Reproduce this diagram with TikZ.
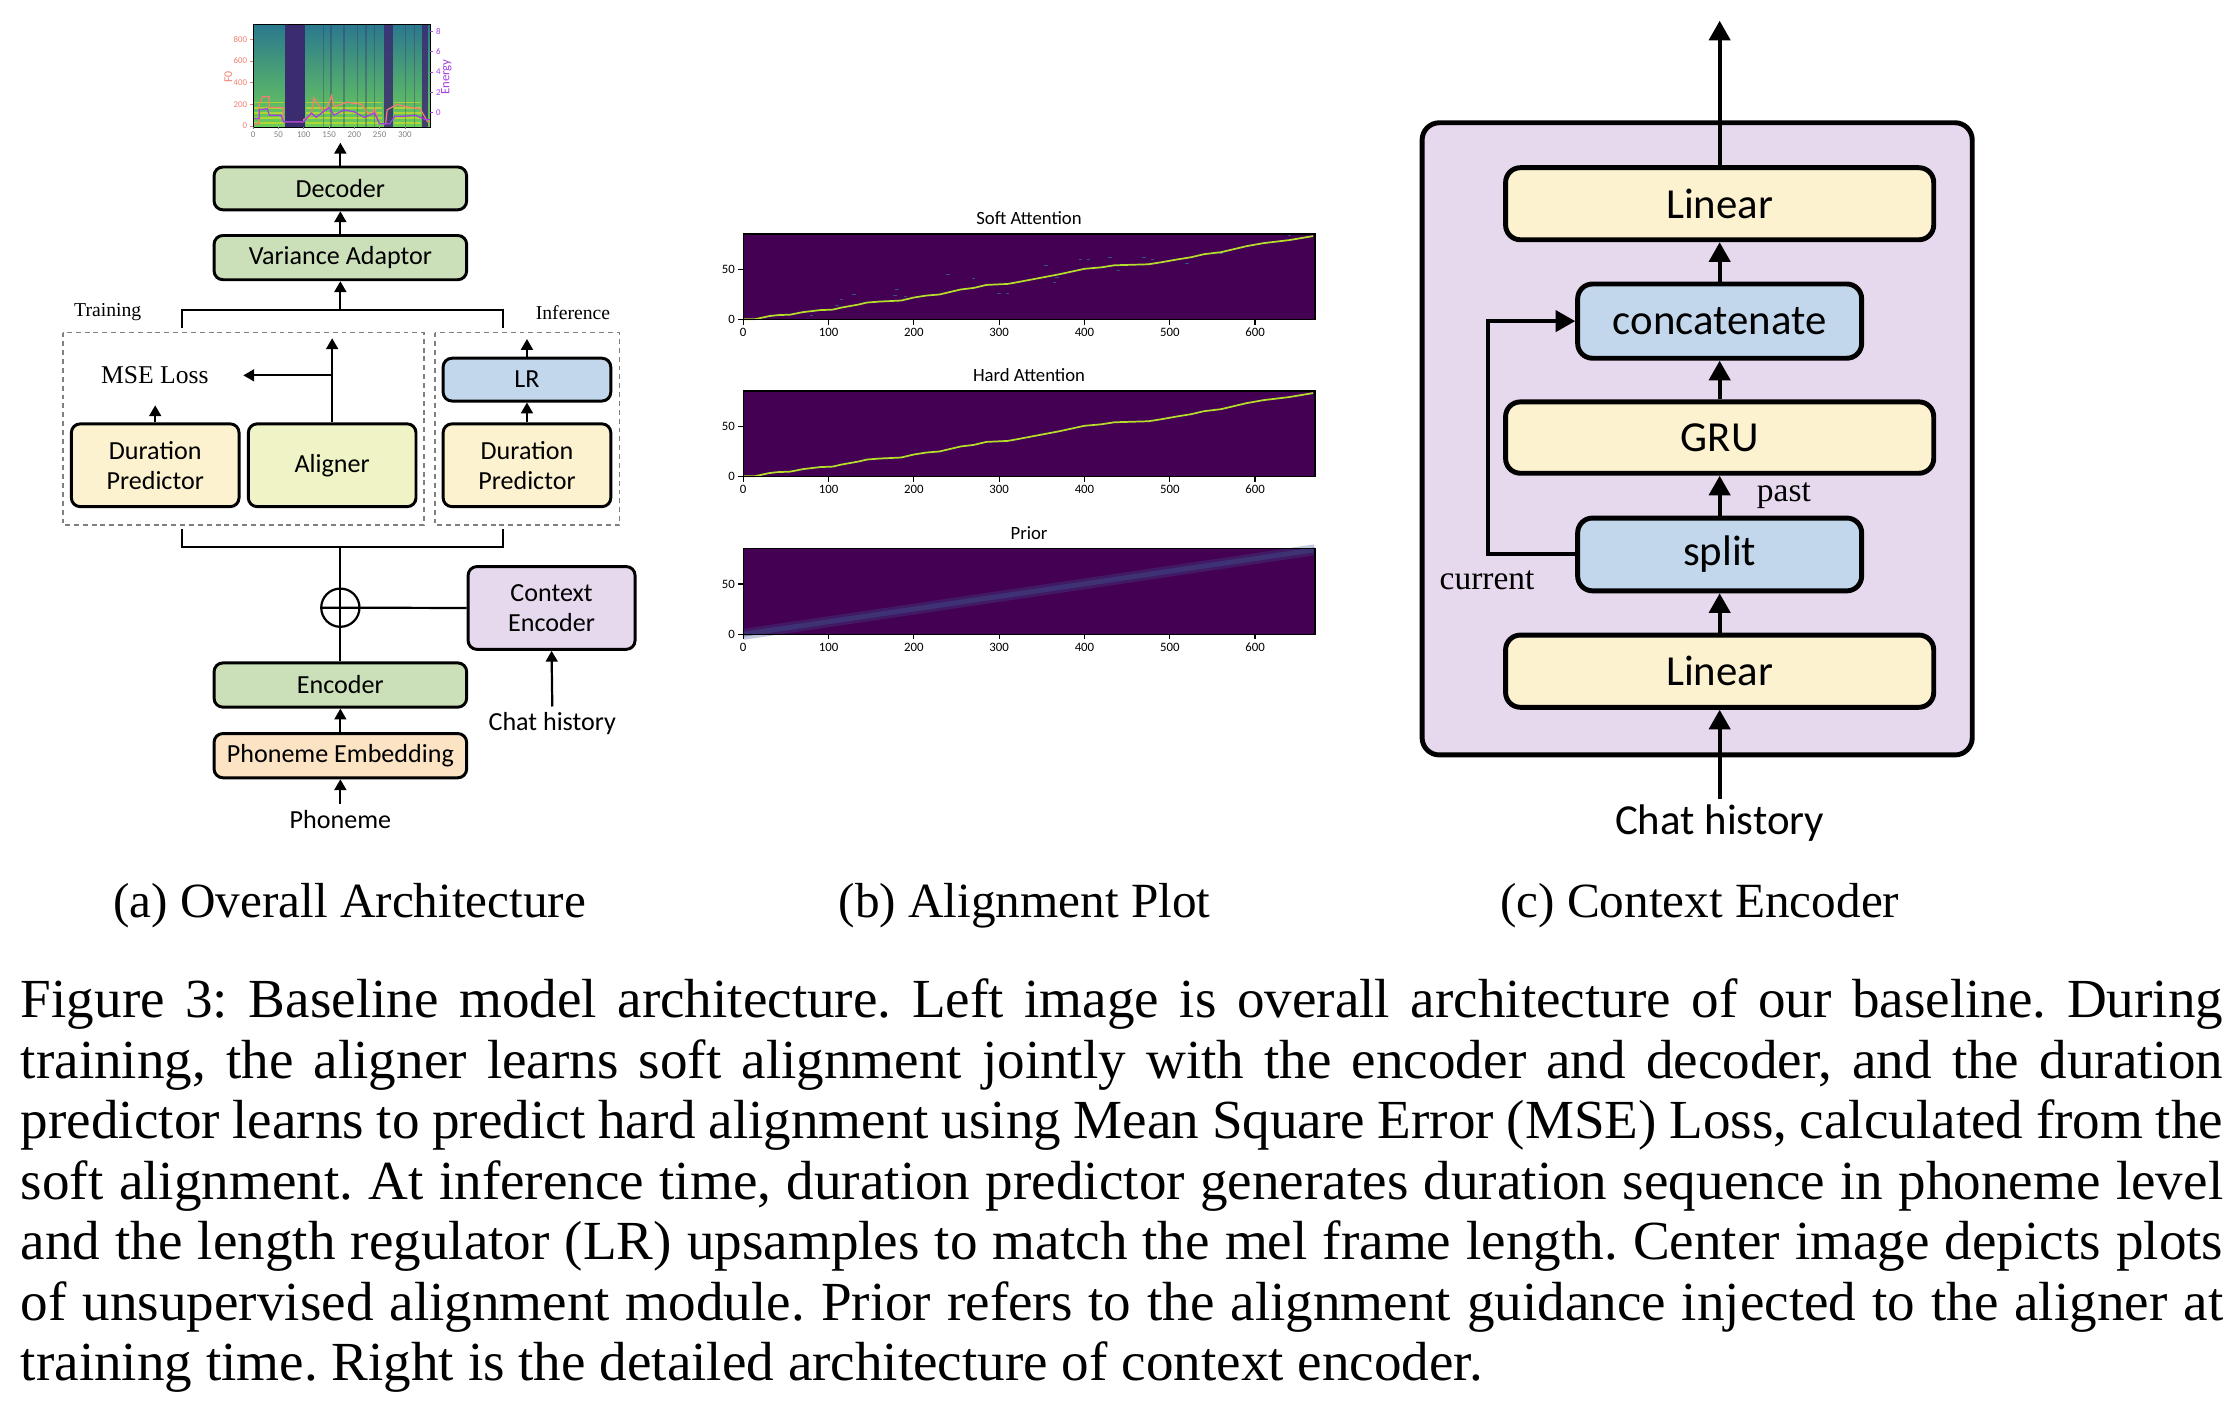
\documentclass[tikz,border=0pt]{standalone}
\usepackage{fontspec}
\setmainfont{Liberation Serif}
\newfontfamily\boxfont{Carlito}
\usetikzlibrary{arrows.meta}

\definecolor{boxgreen}{HTML}{CBDFB8}
\definecolor{boxyellow}{HTML}{FDF2D0}
\definecolor{boxlime}{HTML}{EFF3C6}
\definecolor{boxblue}{HTML}{C3D7EC}
\definecolor{boxlilac}{HTML}{E6D8ED}
\definecolor{boxpeach}{HTML}{FBE3C3}
\definecolor{vdark}{HTML}{440154}
\definecolor{vline}{HTML}{B5DE2B}
\definecolor{vspeck}{HTML}{2A788E}
\definecolor{priorband}{HTML}{3B528B}
\definecolor{spectop}{HTML}{2A788E}
\definecolor{specmid}{HTML}{22A384}
\definecolor{specbot}{HTML}{6CCD5A}
\definecolor{specdark}{HTML}{3B2C70}
\definecolor{specyel}{HTML}{DDE318}
\definecolor{f0col}{HTML}{F08070}
\definecolor{encol}{HTML}{A43FE0}

\tikzset{
  boxsize/.style 2 args={minimum width=#1*0.29pt, minimum height=#2*0.29pt},
  blk/.style={draw=black, line width=0.6pt, rounded corners=1.8pt, align=center, inner sep=0pt,
    font=\boxfont\fontsize{5.3pt}{6.1pt}\selectfont},
  cblk/.style={draw=black, line width=1pt, rounded corners=3pt, inner sep=0pt,
    font=\boxfont\fontsize{8.7pt}{10pt}\selectfont},
  link/.style={line width=0.45pt},
  arra/.style={-{Triangle[width=2.4pt,length=2.2pt]}, line width=0.45pt},
  arrc/.style={-{Triangle[width=4.3pt,length=4pt]}, line width=0.8pt},
  dashbox/.style={draw=gray, line width=0.35pt, dash pattern=on 1pt off 0.8pt},
  ticklab/.style={font=\boxfont\fontsize{2.6pt}{3pt}\selectfont, inner sep=0.5pt},
  spectick/.style={font=\boxfont\fontsize{1.8pt}{2pt}\selectfont, inner sep=0.4pt},
  attline/.style={draw=vline, line width=0.35pt},
}

\newcommand{\stairline}{(0,0.5) -- (14,0.5) -- (30,3.5) -- (40,4.5) -- (55,5) -- (70,7.5) -- (90,9.5)
  -- (105,10) -- (115,12) -- (135,15) -- (145,17) -- (160,18) -- (185,19) -- (200,22) -- (215,24)
  -- (230,25) -- (245,28) -- (255,30) -- (270,31.5) -- (285,34.5) -- (310,35.5) -- (320,37)
  -- (345,41) -- (370,45) -- (400,50.5) -- (420,52) -- (435,54) -- (475,55) -- (490,57) -- (510,60)
  -- (525,62) -- (540,65) -- (560,67) -- (575,70) -- (590,73) -- (610,76) -- (640,79) -- (668,83)}

\newcommand{\alignframe}[1]{%
  \draw[line width=0.3pt] (0,0) rectangle (670,85);
  \foreach \t in {0,100,...,600} {
    \draw[line width=0.25pt] (\t,0) -- (\t,-5);
    \node[ticklab, below] at (\t,-5) {\t};
  }
  \foreach \t in {0,50} {
    \draw[line width=0.25pt] (0,\t) -- (-5.8,\t);
    \node[ticklab, left] at (-5.8,\t) {\t};
  }
  \node[font=\boxfont\fontsize{3.8pt}{4pt}\selectfont] at (335,100.6) {#1};
}

\begin{document}
\begin{tikzpicture}[x=0.29pt, y=-0.29pt]
  \useasboundingbox (0,0) rectangle (1564,984);

  % (a) overall architecture
  \begin{scope}[shift={(177.4,88.3)}, x=0.10275pt, y=0.02204pt]
    \shade[top color=spectop, middle color=specmid, bottom color=specbot] (0,-10) rectangle (350,938);
    \foreach \h in {30,75,120,165,215} {
      \draw[specyel, line width=0.3pt, opacity=0.6] (2,\h) -- (60,\h) (104,\h) -- (255,\h) (278,\h) -- (331,\h);
    }
    \fill[specdark] (62,-10) rectangle (102,938);
    \fill[specdark, opacity=0.85] (258,-10) rectangle (276,938);
    \fill[specdark, opacity=0.85] (333,-10) rectangle (346,938);
    \foreach \s in {138,152,178,205,222,238,300,318} {
      \fill[specdark, opacity=0.35] (\s,-10) rectangle (\s+3,938);
    }
    \draw[f0col, line width=0.25pt] (0,20) -- (12,20) -- (12,190) -- (18,270) -- (32,270) -- (32,170)
      -- (60,170) -- (60,40) -- (100,40) -- (100,60) -- (115,100) -- (120,260) -- (130,190)
      -- (140,130) -- (150,210) -- (155,280) -- (160,180) -- (175,200) -- (185,220) -- (215,200)
      -- (225,130) -- (235,110) -- (240,160) -- (250,20) -- (262,20) -- (265,150) -- (285,200)
      -- (300,180) -- (330,160) -- (345,40) -- (350,40);
    \draw[encol, line width=0.25pt] (0,70) -- (12,70) -- (12,150) -- (28,160) -- (32,100) -- (55,100)
      -- (60,40) -- (100,40) -- (115,120) -- (125,80) -- (135,120) -- (150,170) -- (160,100)
      -- (180,150) -- (200,130) -- (220,80) -- (240,120) -- (250,20) -- (270,20) -- (280,90)
      -- (300,90) -- (320,100) -- (340,60) -- (350,60);
    \draw[line width=0.2pt] (0,-10) rectangle (350,938);
    \foreach \t in {0,50,...,300} {
      \draw[line width=0.15pt, gray] (\t,-10) -- (\t,-30);
      \node[spectick, below, text=gray] at (\t,-30) {\t};
    }
    \foreach \t in {0,200,400,600,800} {
      \draw[line width=0.15pt, f0col] (0,\t) -- (-6,\t);
      \node[spectick, left, text=f0col] at (-6,\t) {\t};
    }
    \foreach \e in {0,2,4,6,8} {
      \draw[line width=0.15pt, encol] (350,122+94*\e) -- (356,122+94*\e);
      \node[spectick, right, text=encol] at (356,122+94*\e) {\e};
    }
    \node[rotate=90, text=f0col, font=\boxfont\fontsize{2.4pt}{3pt}\selectfont] at (-49,451) {F0};
    \node[rotate=90, text=encol, font=\boxfont\fontsize{2.6pt}{3pt}\selectfont] at (382,451) {Energy};
  \end{scope}
  \coordinate (specbot) at (238.5,100);

  \draw[dashbox] (44,233) rectangle (297,368);
  \draw[dashbox] (305,233) rectangle (434,368);

  \node[blk, boxsize={177}{30}, fill=boxgreen] (dec) at (238.5,132) {Decoder};
  \node[blk, boxsize={177}{31}, fill=boxgreen] (va) at (238.5,180.5) {Variance Adaptor};
  \node[blk, boxsize={117.5}{58}, fill=boxyellow] (dpl) at (108.75,326) {Duration\\Predictor};
  \node[blk, boxsize={117.5}{58}, fill=boxlime] (ali) at (232.75,326) {Aligner};
  \node[blk, boxsize={117.5}{30}, fill=boxblue] (lr) at (369.25,266) {LR};
  \node[blk, boxsize={117.5}{58}, fill=boxyellow] (dpr) at (369.25,326) {Duration\\Predictor};
  \node[blk, boxsize={117}{58}, fill=boxlilac] (ce) at (386.5,426) {Context\\Encoder};
  \node[blk, boxsize={177}{31}, fill=boxgreen] (enc) at (238.5,480) {Encoder};
  \node[blk, boxsize={177}{31}, fill=boxpeach] (pe) at (238.5,529.5) {Phoneme Embedding};
  \node[circle, draw, link, minimum size=26.8*0.29pt, inner sep=0pt] (add) at (238.5,425.8) {};

  \node[font=\fontsize{4pt}{5pt}\selectfont] (train) at (75.5,219) {Training};
  \node[font=\fontsize{4pt}{5pt}\selectfont] (infer) at (401.5,219) {Inference};
  \node[font=\fontsize{5.2pt}{6pt}\selectfont] (mse) at (108.5,263) {MSE Loss};
  \node[font=\boxfont\fontsize{5.3pt}{6pt}\selectfont, inner sep=1pt] (pho) at (238.5,574) {Phoneme};
  \node[font=\boxfont\fontsize{5.3pt}{6pt}\selectfont, inner sep=1pt] (chat) at (387,507) {Chat history};

  \coordinate (brtop) at (238.5,217);
  \coordinate (brl) at (127.3,230);
  \coordinate (brr) at (352.7,230);
  \coordinate (blmid) at (238.5,383.5);
  \coordinate (bll) at (127.3,371);
  \coordinate (blr) at (352.7,371);
  \coordinate (alitop) at (232.75,237);
  \coordinate (msetip) at (170.5,263);
  \coordinate (msebot) at (108.75,284);
  \coordinate (lrtop) at (369.25,237.5);

  \draw[arra] (dec.north) -- (specbot);
  \draw[arra] (va.north) -- (dec.south);
  \draw[link] (brl) |- (brtop) -| (brr);
  \draw[arra] (brtop) -- (va.south);
  \draw[arra] (ali.north) -- (alitop);
  \draw[arra] (ali.north |- msetip) -- (msetip);
  \draw[arra] (dpl.north) -- (msebot);
  \draw[arra] (dpr.north) -- (lr.south);
  \draw[arra] (lr.north) -- (lrtop);
  \draw[link] (bll) |- (blmid) -| (blr);
  \draw[link] (blmid) -- (enc.north);
  \draw[link] (add.west) -- (ce.west);
  \draw[arra] (pe.north) -- (enc.south);
  \draw[arra] (pho.north) -- (pe.south);
  \draw[arra] (chat.north) -- (ce.south);

  % (b) alignment plot
  \begin{scope}[shift={(520.8,224)}, x=0.17336pt, y=0.2047pt]
    \fill[vdark] (0,0) rectangle (670,85);
    \foreach \a/\b in {80/4,110/14,115/20,130/25,178/24,190/23,240/45,270/41,300/26,310/26,355/54,
      365/37,368/42,395/60,405/60,430/62,440/49,470/62,480/60,520/56,640/84,650/85,560/66,180/30} {
      \fill[vspeck, opacity=0.7] (\a-2,\b-0.5) rectangle (\a+2,\b+0.5);
    }
    \draw[attline] \stairline;
    \alignframe{Soft Attention}
  \end{scope}
  \begin{scope}[shift={(520.8,334)}, x=0.17336pt, y=0.2047pt]
    \fill[vdark] (0,0) rectangle (670,85);
    \draw[attline] \stairline;
    \alignframe{Hard Attention}
  \end{scope}
  \begin{scope}[shift={(520.8,444.5)}, x=0.17336pt, y=0.2047pt]
    \fill[vdark] (0,0) rectangle (670,85);
    \draw[priorband, line width=2.2pt, opacity=0.3] (0,0) -- (670,84);
    \draw[priorband, line width=1pt, opacity=0.45] (0,0) -- (670,84);
    \alignframe{Prior}
  \end{scope}

  % (c) context encoder
  \draw[fill=boxlilac, line width=1pt, rounded corners=3.5pt] (996.5,86) rectangle (1382,529);
  \node[cblk, boxsize={300}{50.5}, fill=boxyellow] (lintop) at (1205,142.75) {Linear};
  \node[cblk, boxsize={199}{52}, fill=boxblue] (cat) at (1205,225) {concatenate};
  \node[cblk, boxsize={300}{50}, fill=boxyellow] (gru) at (1205,306.6) {GRU};
  \node[cblk, boxsize={199}{51}, fill=boxblue] (split) at (1205,388.5) {split};
  \node[cblk, boxsize={300}{50.6}, fill=boxyellow] (linbot) at (1205,470.3) {Linear};
  \node[font=\boxfont\fontsize{8.7pt}{10pt}\selectfont, inner sep=1pt] (chatc) at (1205,577) {Chat history};
  \node[font=\fontsize{6.8pt}{8pt}\selectfont] (curlab) at (1042,406.5) {current};
  \node[font=\fontsize{6.8pt}{8pt}\selectfont] (pastlab) at (1250,347) {past};
  \coordinate (out) at (1205,14.5);
  \coordinate (curx) at (1042.5,0);

  \draw[arrc] (chatc.north) -- (linbot.south);
  \draw[arrc] (linbot.north) -- (split.south);
  \draw[arrc] (split.north) -- (gru.south);
  \draw[arrc] (gru.north) -- (cat.south);
  \draw[arrc] (cat.north) -- (lintop.south);
  \draw[arrc] (lintop.north) -- (out);
  \draw[arrc] (split.west) -| (curx |- cat.west) -- (cat.west);

  % captions
  \node[anchor=base, font=\fontsize{10pt}{12pt}\selectfont] (capa) at (245,643) {(a) Overall Architecture};
  \node[anchor=base, font=\fontsize{10pt}{12pt}\selectfont] (capb) at (718,643) {(b) Alignment Plot};
  \node[anchor=base, font=\fontsize{10pt}{12pt}\selectfont] (capc) at (1191,643) {(c) Context Encoder};
  \node[anchor=base west, inner sep=0pt, text width=1543*0.29pt, align=justify,
    font=\fontsize{11.2pt}{12.3pt}\selectfont\frenchspacing] (figcap) at (14,713) {Figure 3: Baseline model architecture. Left image is overall architecture of our baseline. During\linebreak
    training, the aligner learns soft alignment jointly with the encoder and decoder, and the duration\linebreak
    predictor learns to predict hard alignment using Mean Square Error (MSE) Loss, calculated from the\linebreak
    soft alignment. At inference time, duration predictor generates duration sequence in phoneme level\linebreak
    and the length regulator (LR) upsamples to match the mel frame length. Center image depicts plots\linebreak
    of unsupervised alignment module. Prior refers to the alignment guidance injected to the aligner at\linebreak
    training time. Right is the detailed architecture of context encoder.};
\end{tikzpicture}
\end{document}
